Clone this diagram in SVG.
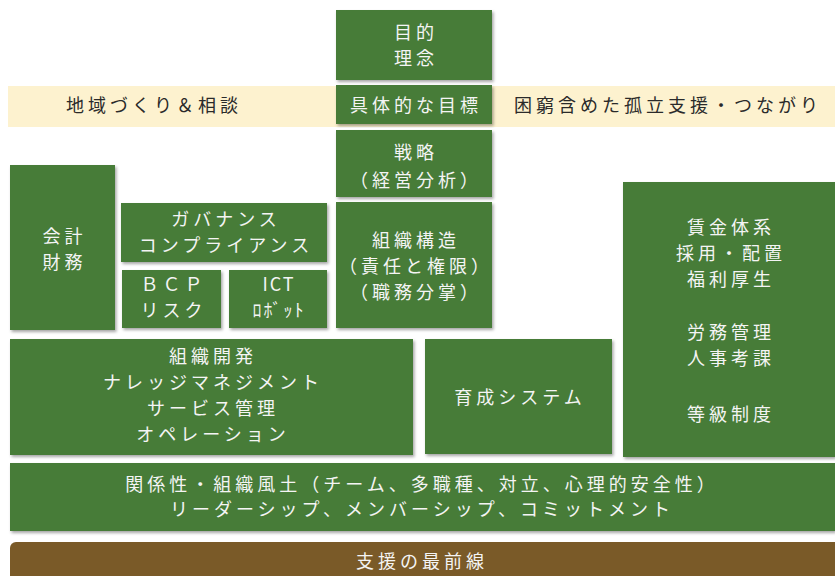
<svg xmlns="http://www.w3.org/2000/svg" width="835" height="576" viewBox="0 0 835 576">
<defs>
<filter id="sh" x="-5%" y="-5%" width="110%" height="115%">
<feDropShadow dx="1.5" dy="2" stdDeviation="1.5" flood-color="#000" flood-opacity="0.35"/>
</filter>
<style>
.box{fill:#467b37;filter:url(#sh)}
.band{fill:#fdf2cf}
.t{font-family:'Noto Sans CJK JP','Noto Sans',sans-serif;font-size:18px;fill:#f4f4f4;text-anchor:middle;dominant-baseline:central;letter-spacing:4px}
.bt{font-family:'Noto Sans CJK JP','Noto Sans',sans-serif;font-size:18px;fill:#2a2a2a;dominant-baseline:central;letter-spacing:4px}
.hw{letter-spacing:2px}
</style>
</defs>
<rect width="835" height="576" fill="#ffffff"/>

<g id="band">
<rect class="band" x="8" y="86" width="827" height="41"/>
<text class="bt" x="154" y="104" text-anchor="middle">地域づくり＆相談</text>
<text class="bt" x="514" y="104">困窮含めた孤立支援・つながり</text>
</g>

<g id="purpose">
<rect class="box" x="336" y="10" width="156" height="70"/>
<text class="t" x="416" y="31">目的</text>
<text class="t" x="416" y="57">理念</text>
</g>

<g id="goal">
<rect class="box" x="336" y="85" width="156" height="39"/>
<text class="t" x="416" y="104">具体的な目標</text>
</g>

<g id="strategy">
<rect class="box" x="336" y="130" width="156" height="67"/>
<text class="t" x="416" y="151">戦略</text>
<text class="t" x="416" y="179">（経営分析）</text>
</g>

<g id="finance">
<rect class="box" x="10" y="165" width="105" height="165"/>
<text class="t" x="64.5" y="235">会計</text>
<text class="t" x="64.5" y="261">財務</text>
</g>

<g id="governance">
<rect class="box" x="121" y="203" width="206" height="59"/>
<text class="t" x="226" y="218">ガバナンス</text>
<text class="t" x="226" y="244">コンプライアンス</text>
</g>

<g id="bcp">
<rect class="box" x="122" y="270" width="99" height="58"/>
<text class="t" x="173.5" y="283">ＢＣＰ</text>
<text class="t" x="173.5" y="309">リスク</text>
</g>

<g id="ict">
<rect class="box" x="229" y="270" width="98" height="58"/>
<text class="t hw" x="279" y="283">ICT</text>
<text class="t hw" x="279" y="309">ﾛﾎﾞｯﾄ</text>
</g>

<g id="structure">
<rect class="box" x="336" y="202" width="156" height="126"/>
<text class="t" x="416" y="239">組織構造</text>
<text class="t" x="416" y="265">（責任と権限）</text>
<text class="t" x="416" y="291">（職務分掌）</text>
</g>

<g id="hr">
<rect class="box" x="623" y="182" width="212" height="275"/>
<text class="t" x="731" y="226">賃金体系</text>
<text class="t" x="731" y="252">採用・配置</text>
<text class="t" x="731" y="278">福利厚生</text>
<text class="t" x="731" y="331">労務管理</text>
<text class="t" x="731" y="357">人事考課</text>
<text class="t" x="731" y="413">等級制度</text>
</g>

<g id="orgdev">
<rect class="box" x="10" y="339" width="403" height="116"/>
<text class="t" x="213" y="355">組織開発</text>
<text class="t" x="213" y="381">ナレッジマネジメント</text>
<text class="t" x="213" y="407">サービス管理</text>
<text class="t" x="213" y="433">オペレーション</text>
</g>

<g id="training">
<rect class="box" x="425" y="339" width="187" height="115"/>
<text class="t" x="520" y="396">育成システム</text>
</g>

<g id="culture">
<rect class="box" x="10" y="463" width="825" height="68"/>
<text class="t" x="422" y="483">関係性・組織風土（チーム、多職種、対立、心理的安全性）</text>
<text class="t" x="422" y="508">リーダーシップ、メンバーシップ、コミットメント</text>
</g>

<g id="frontline">
<rect x="10" y="542" width="840" height="50" rx="6" fill="#7a5a28"/>
<text class="t" x="422" y="560">支援の最前線</text>
</g>

<g id="connectors"/>
</svg>
